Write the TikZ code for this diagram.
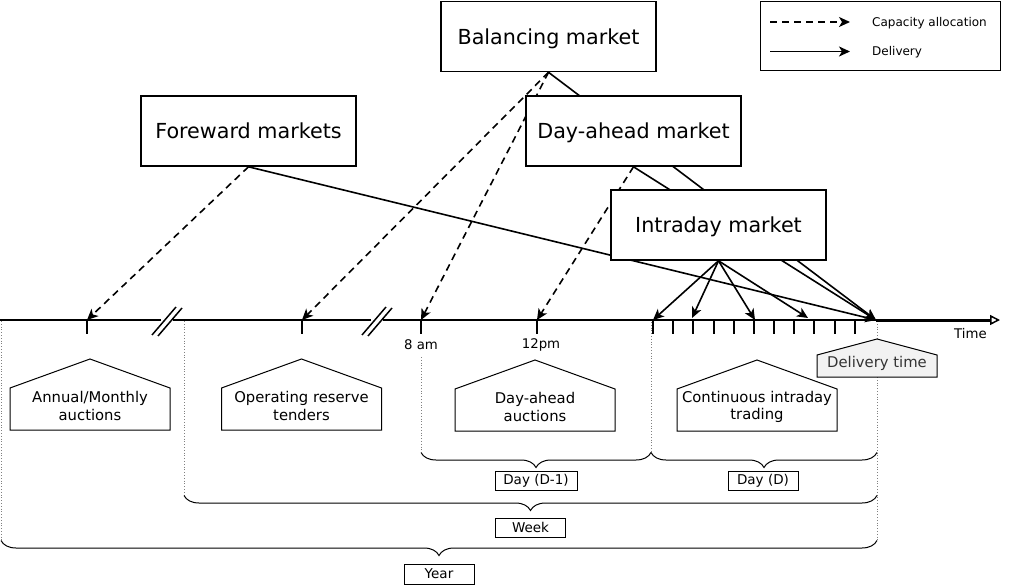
\documentclass[tikz,border=0pt]{standalone}
\usepackage{fontspec}
\setmainfont{DejaVu Sans}
\usetikzlibrary{arrows.meta,decorations.pathreplacing,backgrounds}
\newcommand{\mkhouse}[6]{%
  \draw[line width=1pt,fill=#6] (#1-#5,#4) -- (#1-#5,#3) -- (#1,#2) -- (#1+#5,#3) -- (#1+#5,#4) -- cycle;}
\begin{document}
\begin{tikzpicture}[x=1pt,y=-1pt,
  mkt/.style={draw,line width=1.6pt,fill=white,minimum width=215pt,minimum height=70pt,inner sep=0pt,text height=16pt,text depth=0pt,font=\fontsize{20.7}{24}\selectfont},
  tipa/.style={-{Stealth[length=11pt,width=10pt,inset=3pt]}},
  alloc/.style={tipa,line width=1.6pt,dash pattern=on 7pt off 5pt},
  deliv/.style={tipa,line width=1.6pt},
  housetxt/.style={align=center,font=\fontsize{14.8}{17.3}\selectfont,inner sep=0pt},
  guide/.style={draw=gray,line width=0.8pt,dotted},
  brc/.style={decorate,decoration={brace,amplitude=15pt,mirror},line width=1pt},
  lbl/.style={draw,line width=1pt,minimum height=19pt,minimum width=70pt,inner sep=0pt,font=\fontsize{13.5}{16}\selectfont},
  axisline/.style={line width=2pt},
  tickmark/.style={line width=2pt},
  small/.style={font=\fontsize{13.3}{16}\selectfont,inner sep=0pt},
  legtxt/.style={font=\fontsize{12}{14}\selectfont,inner sep=0pt,anchor=base west},
]
\useasboundingbox (0,0) rectangle (1011,585);

% market boxes
\node[mkt] (bal) at (548.5,36.5) {Balancing market};
\node[mkt] (fw) at (248.5,131) {Foreward markets};
\node[mkt] (da) at (633.5,131) {Day-ahead market};
\node[mkt] (id) at (718.5,225) {Intraday market};

% legend
\node[draw,line width=1pt,minimum width=240pt,minimum height=69pt] (leg) at (880,36) {};
\coordinate (la1) at (770,22); \coordinate (la2) at (850,22);
\coordinate (lb1) at (770,51.5); \coordinate (lb2) at (850,51.5);
\draw[alloc] (la1) -- (la2);
\draw[deliv] (lb1) -- (lb2);
\node[legtxt] (legA) at (872,26.5) {Capacity allocation};
\node[legtxt] (legB) at (872,56) {Delivery};

% time axis
\coordinate (del) at (876,320);
\coordinate (tA) at (87,320);
\coordinate (tO) at (302,320);
\coordinate (t8) at (421,320);
\coordinate (t12) at (537,320);
\coordinate (i1) at (653,320);
\coordinate (i2) at (692,318);
\coordinate (i3) at (755,320);
\coordinate (i4) at (808,318);
\coordinate (tend) at (1000,320);
\draw[axisline] (0,320) -- (161,320);
\draw[axisline] (173,320) -- (371,320);
\draw[axisline] (383,320) -- (del);
\draw[line width=3pt,-{Triangle[open,length=10pt,width=10pt,line width=1.5pt]}] (del) -- (tend);
% breaks
\foreach \c in {167,377}{
  \draw[line width=1.5pt] (\c-15,335) -- (\c+9,307);
  \draw[line width=1.5pt] (\c-9,336) -- (\c+15,308);
}
% ticks
\foreach \x in {87,302,421,537}{\draw[tickmark] (\x,320) -- (\x,334);}
\foreach \i in {0,...,10}{\draw[tickmark] (653+\i*20.18,320) -- (653+\i*20.18,334);}
\node[small] (l8) at (421,345) {8 am};
\node[small] (l12) at (541,345) {12pm};
\node[small] (ltime) at (970.5,334) {Time};

% houses
\mkhouse{90}{359}{388}{430}{80}{white}
\node[housetxt] (hAnn) at (90,406) {Annual/Monthly\\auctions};
\mkhouse{301.5}{359}{388}{430}{80}{white}
\node[housetxt] (hOp) at (301.5,406) {Operating reserve\\tenders};
\mkhouse{535}{360}{389}{431}{80}{white}
\node[housetxt] (hDa) at (535,407) {Day-ahead\\auctions};
\mkhouse{757}{360}{389}{431}{80}{white}
\node[housetxt] (hCi) at (757,407) {Continuous intraday\\trading};
\mkhouse{877}{339}{355}{377}{60}{black!5}
\node[housetxt,text=black!80] (hDel) at (877,363) {Delivery time};

% braces
\draw[brc] (421,452.5) -- (651,452.5);
\draw[brc] (651,452.5) -- (877,452.5);
\draw[brc] (184,495.5) -- (877,495.5);
\draw[brc] (1,540.5) -- (877,540.5);
\node[lbl,minimum width=82pt] (dm1) at (536,480.5) {Day (D-1)};
\node[lbl] (dd) at (763,480.5) {Day (D)};
\node[lbl] (wk) at (530.5,527.5) {Week};
\node[lbl,minimum height=20pt] (yr) at (439,574) {Year};

\begin{pgfonlayer}{background}
  % guides
  \draw[guide] (1,321) -- (1,540);
  \draw[guide] (184,321) -- (184,495);
  \draw[guide] (421,357) -- (421,452);
  \draw[guide] (651,322) -- (651,452);
  \draw[guide] (877,321) -- (877,540);
  % connectors
  \draw[alloc] (fw.south) -- (tA);
  \draw[deliv] (fw.south) -- (del);
  \draw[alloc] (bal.south) -- (tO);
  \draw[alloc] (bal.south) -- (t8);
  \draw[deliv] (bal.south) -- (del);
  \draw[alloc] (da.south) -- (t12);
  \draw[deliv] (da.south) -- (del);
  \draw[deliv] (id.south) -- (i1);
  \draw[deliv] (id.south) -- (i2);
  \draw[deliv] (id.south) -- (i3);
  \draw[deliv] (id.south) -- (i4);
\end{pgfonlayer}
\end{tikzpicture}
\end{document}
